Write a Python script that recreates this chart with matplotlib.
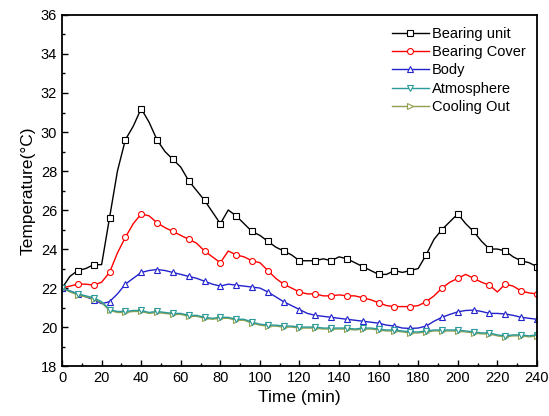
import numpy as np
import matplotlib
matplotlib.use('Agg')
import matplotlib.pyplot as plt
from matplotlib.ticker import MultipleLocator

plt.rcParams['font.family'] = ['Liberation Sans', 'DejaVu Sans']

time = list(range(0, 241, 4))

bearing_unit = [22.0, 22.6, 22.9, 23.0, 23.2, 23.2, 25.6, 28.0, 29.6, 30.3,
                31.2, 30.5, 29.6, 29.0, 28.6, 28.2, 27.5, 27.0, 26.5, 25.9,
                25.3, 26.0, 25.7, 25.3, 24.9, 24.7, 24.4, 24.1, 23.9, 23.7,
                23.4, 23.4, 23.4, 23.5, 23.4, 23.6, 23.5, 23.3, 23.1, 22.9,
                22.7, 22.7, 22.9, 22.8, 22.9, 23.0, 23.7, 24.5, 25.0, 25.4,
                25.8, 25.3, 24.9, 24.4, 24.0, 24.0, 23.9, 23.6, 23.4, 23.3,
                23.1]
bearing_cover = [22.0, 22.1, 22.2, 22.2, 22.15, 22.3, 22.8, 23.8, 24.6, 25.3,
                 25.8, 25.7, 25.35, 25.1, 24.9, 24.7, 24.5, 24.3, 23.9, 23.6,
                 23.3, 23.9, 23.7, 23.6, 23.4, 23.3, 22.9, 22.5, 22.2, 22.0,
                 21.8, 21.7, 21.7, 21.6, 21.6, 21.65, 21.6, 21.6, 21.5, 21.4,
                 21.25, 21.1, 21.05, 21.05, 21.05, 21.1, 21.3, 21.6, 22.0, 22.3,
                 22.5, 22.7, 22.5, 22.3, 22.15, 21.8, 22.2, 22.1, 21.85, 21.75,
                 21.7]
body = [22.0, 21.85, 21.7, 21.55, 21.4, 21.2, 21.3, 21.7, 22.2, 22.5,
        22.8, 22.9, 22.95, 22.9, 22.8, 22.7, 22.6, 22.5, 22.35, 22.2,
        22.1, 22.2, 22.15, 22.1, 22.05, 22.0, 21.8, 21.55, 21.3, 21.1,
        20.9, 20.7, 20.6, 20.55, 20.5, 20.45, 20.4, 20.35, 20.3, 20.25,
        20.2, 20.1, 20.05, 19.95, 19.93, 19.95, 20.05, 20.3, 20.5, 20.65,
        20.78, 20.85, 20.87, 20.8, 20.7, 20.7, 20.67, 20.6, 20.5, 20.45,
        20.4]
atmosphere = [22.0, 21.85, 21.7, 21.6, 21.5, 21.3, 20.9, 20.8, 20.8, 20.85,
              20.85, 20.75, 20.8, 20.75, 20.7, 20.7, 20.6, 20.6, 20.5, 20.45,
              20.5, 20.5, 20.4, 20.4, 20.25, 20.15, 20.1, 20.1, 20.05, 20.05,
              20.0, 20.0, 20.0, 19.95, 19.95, 19.95, 19.95, 19.9, 19.95, 19.95,
              19.9, 19.85, 19.85, 19.8, 19.75, 19.75, 19.8, 19.85, 19.85, 19.85,
              19.85, 19.8, 19.75, 19.7, 19.7, 19.6, 19.55, 19.6, 19.6, 19.55,
              19.6]
cooling_out = [22.0, 21.8, 21.65, 21.55, 21.45, 21.25, 20.85, 20.75, 20.75, 20.8,
               20.8, 20.7, 20.75, 20.7, 20.65, 20.65, 20.55, 20.55, 20.45, 20.4,
               20.45, 20.45, 20.35, 20.35, 20.2, 20.1, 20.05, 20.05, 20.0, 20.0,
               19.95, 19.95, 19.95, 19.9, 19.9, 19.9, 19.9, 19.85, 19.9, 19.9,
               19.85, 19.8, 19.8, 19.75, 19.7, 19.7, 19.75, 19.8, 19.8, 19.8,
               19.8, 19.75, 19.7, 19.65, 19.65, 19.55, 19.5, 19.55, 19.55, 19.5,
               19.55]

series = [
    ('Bearing unit', bearing_unit, 'black', 's'),
    ('Bearing Cover', bearing_cover, 'red', 'o'),
    ('Body', body, '#2222cc', '^'),
    ('Atmosphere', atmosphere, '#2a9a9a', 'v'),
    ('Cooling Out', cooling_out, '#8fa050', '>'),
]

fig = plt.figure(figsize=(5.49, 4.16), dpi=100)
ax = fig.add_axes([0.113, 0.12, 0.865, 0.844])

# cooling out goes under atmosphere
order = [0, 1, 2, 4, 3]
handles = {}
for i in order:
    name, vals, col, mk = series[i]
    h, = ax.plot(time, vals, color=col, lw=1.0, marker=mk, markevery=2,
                 markersize=4.3, markerfacecolor='white', markeredgecolor=col,
                 markeredgewidth=0.8, label=name)
    handles[i] = h

ax.legend([handles[i] for i in range(5)], [s[0] for s in series],
          loc='upper right', frameon=False, fontsize=10.5,
          handlelength=2.5, handletextpad=0.2, labelspacing=0.3,
          borderaxespad=0.4)

ax.set_xlim(0, 240)
ax.set_ylim(18, 36)
ax.xaxis.set_major_locator(MultipleLocator(20))
ax.xaxis.set_minor_locator(MultipleLocator(10))
ax.yaxis.set_major_locator(MultipleLocator(2))
ax.yaxis.set_minor_locator(MultipleLocator(1))
ax.tick_params(which='both', direction='in', top=False, right=False, labelsize=10.5)
ax.tick_params(which='major', length=4, width=1)
ax.tick_params(which='minor', length=2, width=1)
for sp in ax.spines.values():
    sp.set_linewidth(1.3)

ax.set_xlabel('Time (min)', fontsize=12.5)
ax.set_ylabel('Temperature(°C)', fontsize=12.5)

fig.savefig('out.png', dpi=100)
